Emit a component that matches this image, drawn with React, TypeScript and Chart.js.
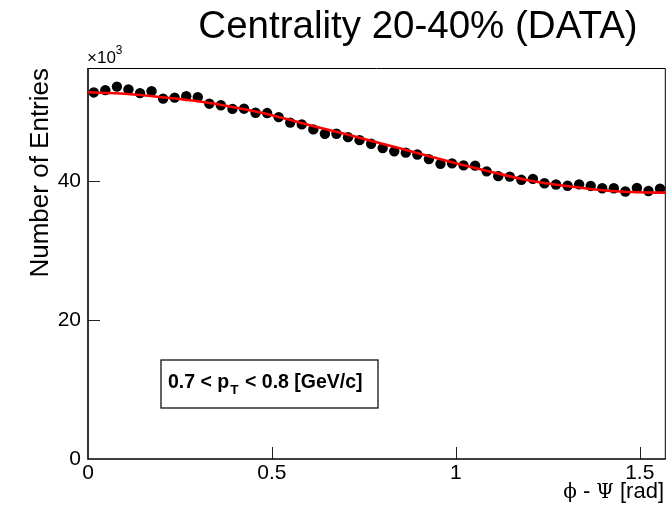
import React, { useEffect, useRef } from "react";
import { Chart, registerables } from "chart.js";

Chart.register(...registerables);

// Histogram: 50 bins over [0, pi/2]; values in thousands of entries
const BIN_COUNT = 50;
const X_MAX = Math.PI / 2;
const entries = [
  52.78, 53.11, 53.62, 53.21, 52.68, 52.96, 51.89, 52.03, 52.25, 52.11,
  51.16, 50.94, 50.41, 50.44, 49.86, 49.81, 49.22, 48.44, 48.18, 47.46,
  46.84, 46.84, 46.34, 45.91, 45.40, 44.77, 44.30, 44.11, 43.84, 43.18,
  42.50, 42.57, 42.28, 42.24, 41.42, 40.73, 40.66, 40.20, 40.34, 39.70,
  39.52, 39.34, 39.55, 39.32, 38.98, 38.98, 38.52, 39.02, 38.59, 38.93,
];

// Fit curve
const fitX = [0, 0.1, 0.2, 0.3, 0.4, 0.5, 0.6, 0.7, 0.8, 0.9, 1.0, 1.1, 1.2, 1.3, 1.4, 1.5, 1.5708];
const fitY = [52.8, 52.6, 52.1, 51.5, 50.6, 49.5, 48.1, 46.8, 45.4, 44.0, 42.6, 41.3, 40.1, 39.3, 38.7, 38.4, 38.35];

const xTicks = [0, 0.5, 1, 1.5];
const yTicks = [0, 20, 40];
const Y_MAX = 56.3;

const TITLE = "Centrality 20-40% (DATA)";
const Y_TITLE = "Number of Entries";

const SANS = "'Liberation Sans', Arial, Helvetica, sans-serif";
const SERIF = "'DejaVu Serif', 'Liberation Serif', serif";

const binCenters = entries.map((_, i) => ((i + 0.5) * X_MAX) / BIN_COUNT);

const decoPlugin = {
  id: "deco",
  beforeDatasetsDraw(chart: any) {
    const { ctx, chartArea: a, scales } = chart;
    ctx.save();
    // ticks inside frame
    ctx.strokeStyle = "#222";
    ctx.lineWidth = 1;
    xTicks.forEach((v) => {
      if (v === 0) return;
      const px = Math.round(scales.x.getPixelForValue(v)) + 0.5;
      ctx.beginPath();
      ctx.moveTo(px, a.bottom);
      ctx.lineTo(px, a.bottom - 12);
      ctx.stroke();
    });
    yTicks.forEach((v) => {
      if (v === 0) return;
      const py = Math.round(scales.y.getPixelForValue(v)) + 0.5;
      ctx.beginPath();
      ctx.moveTo(a.left, py);
      ctx.lineTo(a.left + 12, py);
      ctx.stroke();
    });
    // frame
    ctx.strokeStyle = "#000";
    ctx.lineWidth = 1;
    ctx.beginPath();
    ctx.moveTo(a.left, a.top + 0.5);
    ctx.lineTo(a.right - 0.5, a.top + 0.5);
    ctx.lineTo(a.right - 0.5, a.bottom);
    ctx.stroke();
    ctx.lineWidth = 1.6;
    ctx.beginPath();
    ctx.moveTo(a.left, a.top);
    ctx.lineTo(a.left, a.bottom);
    ctx.lineTo(a.right, a.bottom);
    ctx.stroke();

    // pave text box
    const bx = 161, by = 360, bw = 217, bh = 48;
    ctx.fillStyle = "#fff";
    ctx.fillRect(bx, by, bw, bh);
    ctx.strokeStyle = "#111";
    ctx.lineWidth = 1.3;
    ctx.strokeRect(bx, by, bw, bh);
    ctx.fillStyle = "#000";
    ctx.textBaseline = "alphabetic";
    ctx.textAlign = "left";
    const fs = 19.5;
    let tx = 168;
    const ty = 388;
    ctx.font = `bold ${fs}px ${SANS}`;
    const p1 = "0.7 < p";
    ctx.fillText(p1, tx, ty);
    tx += ctx.measureText(p1).width + 1;
    ctx.font = `bold ${fs * 0.7}px ${SANS}`;
    ctx.fillText("T", tx, ty + 6);
    tx += ctx.measureText("T").width + 1;
    ctx.font = `bold ${fs}px ${SANS}`;
    ctx.fillText(" < 0.8 [GeV/c]", tx, ty);
    ctx.restore();
  },
  afterDraw(chart: any) {
    const { ctx, chartArea: a } = chart;
    ctx.save();
    ctx.fillStyle = "#000";
    // title
    ctx.font = `38.5px ${SANS}`;
    ctx.textAlign = "center";
    ctx.textBaseline = "alphabetic";
    ctx.fillText(TITLE, 418, 38);
    // x10^3
    ctx.textAlign = "left";
    ctx.font = `17px ${SANS}`;
    ctx.fillText("\u00d710", 87, 63);
    const w = ctx.measureText("\u00d710").width;
    ctx.font = `12px ${SANS}`;
    ctx.fillText("3", 87 + w, 54);
    // y title, right-aligned to the top of the axis
    ctx.save();
    ctx.translate(48, a.top);
    ctx.rotate(-Math.PI / 2);
    ctx.textAlign = "right";
    ctx.font = `26px ${SANS}`;
    ctx.fillText(Y_TITLE, 0, 0);
    ctx.restore();
    // x title: phi - Psi [rad], right aligned
    const parts: [string, string][] = [
      ["\u03d5", `20px ${SERIF}`],
      [" - ", `22px ${SANS}`],
      ["\u03a8", `20px ${SERIF}`],
      [" [rad]", `22px ${SANS}`],
    ];
    let total = 0;
    parts.forEach(([t, f]) => {
      ctx.font = f;
      total += ctx.measureText(t).width;
    });
    let x = 664 - total;
    parts.forEach(([t, f]) => {
      ctx.font = f;
      ctx.fillText(t, x, 498);
      x += ctx.measureText(t).width;
    });
    ctx.restore();
  },
};

export default function App() {
  const ref = useRef<HTMLCanvasElement | null>(null);
  useEffect(() => {
    if (!ref.current) return;
    const chart = new Chart(ref.current, {
      type: "scatter",
      data: {
        datasets: [
          {
            label: "fit",
            data: fitX.map((x, i) => ({ x, y: fitY[i] })),
            showLine: true,
            borderColor: "#ff0000",
            borderWidth: 2.6,
            pointRadius: 0,
            tension: 0.4,
            cubicInterpolationMode: "monotone",
            order: 0,
          } as any,
          {
            label: "data",
            data: binCenters.map((x, i) => ({ x, y: entries[i] })),
            showLine: false,
            pointRadius: 5.2,
            pointBackgroundColor: "#000",
            pointBorderColor: "#000",
            pointBorderWidth: 0,
            clip: false,
            order: 1,
          } as any,
        ],
      },
      options: {
        animation: false,
        responsive: false,
        layout: { padding: { left: 0, right: 5, top: 68, bottom: 0 } },
        plugins: { legend: { display: false }, tooltip: { enabled: false }, title: { display: false } },
        scales: {
          x: {
            type: "linear",
            min: 0,
            max: X_MAX,
            afterFit: (s: any) => {
              s.height = 46;
            },
            afterBuildTicks: (s: any) => {
              s.ticks = xTicks.map((v) => ({ value: v }));
            },
            grid: { display: false, drawTicks: false },
            border: { display: false },
            ticks: {
              color: "#000",
              padding: 2,
              maxRotation: 0,
              autoSkip: false,
              font: { family: SANS, size: 21 },
              callback: (v: any) => String(v),
            },
          },
          y: {
            type: "linear",
            min: 0,
            max: Y_MAX,
            afterFit: (s: any) => {
              s.width = 88;
            },
            afterBuildTicks: (s: any) => {
              s.ticks = yTicks.map((v) => ({ value: v }));
            },
            grid: { display: false, drawTicks: false },
            border: { display: false },
            ticks: {
              color: "#000",
              padding: 7,
              autoSkip: false,
              font: { family: SANS, size: 21 },
              callback: (v: any) => String(v),
            },
          },
        },
      },
      plugins: [decoPlugin],
    });
    return () => chart.destroy();
  }, []);
  return (
    <div style={{ position: "fixed", left: 0, top: 0, width: 671, height: 505, background: "#fff" }}>
      <canvas ref={ref} width={671} height={505} style={{ display: "block" }} />
    </div>
  );
}
